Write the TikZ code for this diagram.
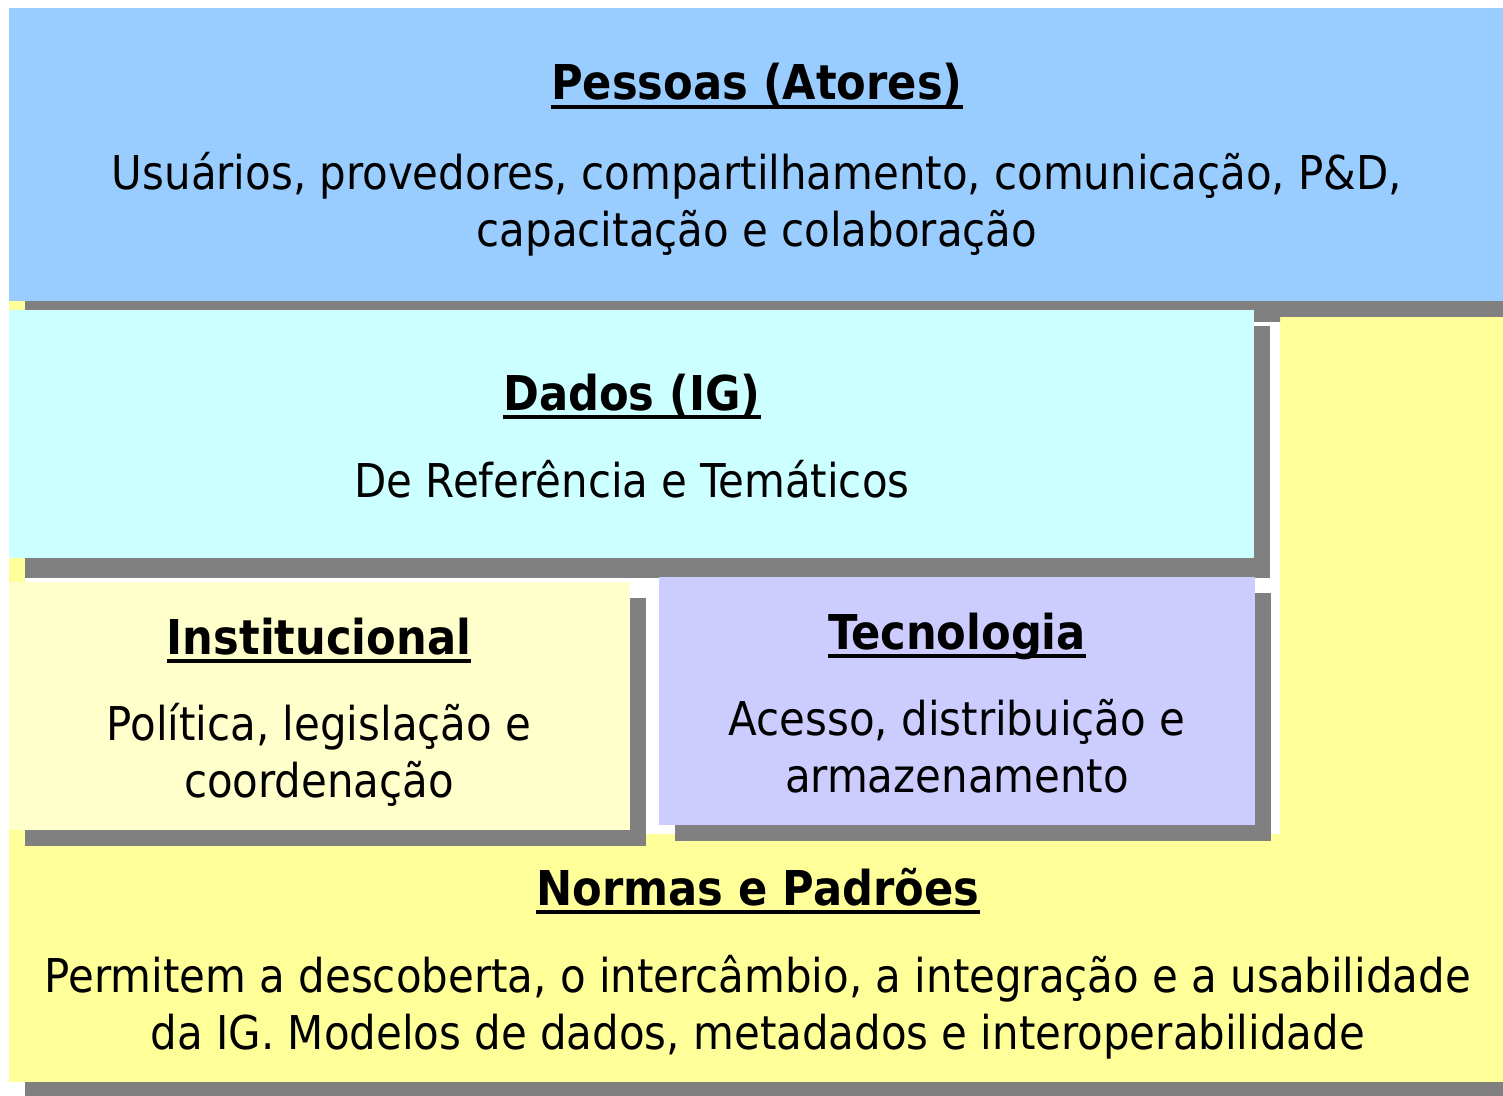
\documentclass[tikz,border=0pt]{standalone}
\usepackage{fontspec}
\setmainfont{DejaVu Sans Condensed}
\definecolor{pessoasblue}{HTML}{99CCFF}
\definecolor{dadoscyan}{HTML}{CCFFFF}
\definecolor{instyellow}{HTML}{FFFFCC}
\definecolor{teclilac}{HTML}{CCCCFF}
\definecolor{normasyellow}{HTML}{FFFF99}
\definecolor{shadowgray}{HTML}{808080}
\begin{document}
\begin{tikzpicture}[x=0.5pt, y=-0.5pt, font=\fontsize{23.3}{28.5}\selectfont,
	shadow/.style={fill=shadowgray},
	title/.style={anchor=base, inner sep=0pt, font=\fontsize{24}{28.5}\selectfont\bfseries},
	body/.style={anchor=base, inner sep=0pt},
	uline/.style={line width=2.3pt}]
	\useasboundingbox (0,0) rectangle (1503,1096);
	% normas (fundo)
	\fill[shadow] (25,1082) rectangle (1503,1096);
	\fill[normasyellow] (9,301) rectangle (1503,1082);
	\fill[white] (25,317) rectangle (1280,834);
	% pessoas
	\fill[shadow] (25,301) rectangle (1280,322) (1280,301) rectangle (1503,317);
	\fill[pessoasblue] (9,8) rectangle (1503,301);
	% dados
	\fill[shadow] (25,326) rectangle (1270,578);
	\fill[dadoscyan] (9,310) rectangle (1254,558);
	% institucional
	\fill[shadow] (25,598) rectangle (646,846);
	\fill[instyellow] (9,582) rectangle (630,830);
	% tecnologia
	\fill[shadow] (675,593) rectangle (1271,841);
	\fill[teclilac] (659,577) rectangle (1255,825);
	% textos
	\node[title] (pessoas) at (757,100) {Pessoas (Atores)};
	\node[body] (pessoas1) at (757,190) {Usuários, provedores, compartilhamento, comunicação, P\&D,};
	\node[body] (pessoas2) at (757,247) {capacitação e colaboração};
	\node[title] (dados) at (632,410) {Dados (IG)};
	\node[body] (dados1) at (632,497) {De Referência e Temáticos};
	\node[title] (inst) at (319,654) {Institucional};
	\node[body] (inst1) at (319,740) {Política, legislação e};
	\node[body] (inst2) at (319,797) {coordenação};
	\node[title] (tec) at (957,649) {Tecnologia};
	\node[body] (tec1) at (957,735) {Acesso, distribuição e};
	\node[body] (tec2) at (957,792) {armazenamento};
	\node[title] (normas) at (758,905) {Normas e Padrões};
	\node[body] (normas1) at (758,992) {Permitem a descoberta, o intercâmbio, a integração e a usabilidade};
	\node[body] (normas2) at (758,1049) {da IG. Modelos de dados, metadados e interoperabilidade};
	% sublinhados
	\foreach \t in {pessoas,dados,inst,tec,normas}
	\draw[uline] ([yshift=-3.5pt]\t.base west) -- ([yshift=-3.5pt]\t.base east);
\end{tikzpicture}
\end{document}
